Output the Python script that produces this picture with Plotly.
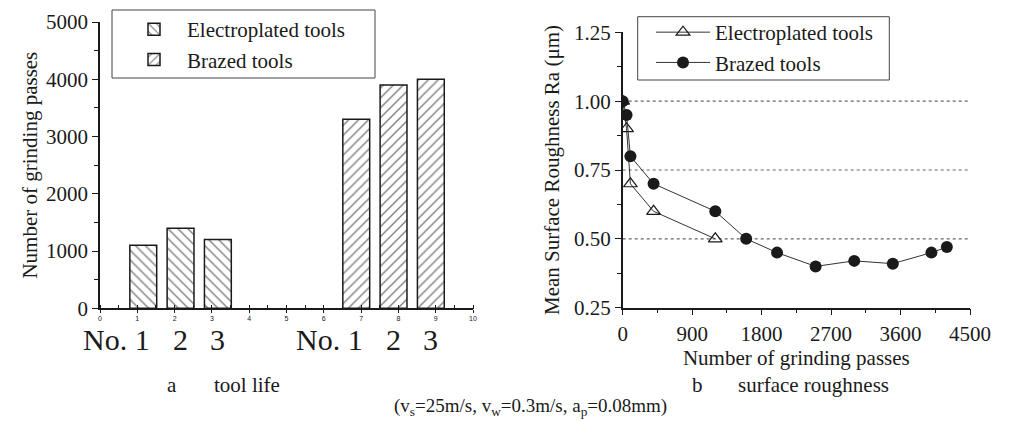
import plotly.graph_objects as go

# ---------------- data ----------------
# panel a: tool life
elec_pos = [1.16, 2.16, 3.16]
elec_life = [1100, 1400, 1200]
braz_pos = [6.87, 7.87, 8.87]
braz_life = [3300, 3900, 4000]
tool_labels = ["No. 1", "2", "3", "No. 1", "2", "3"]

# panel b: surface roughness
elec_passes = [0, 50, 100, 400, 1200]
elec_ra = [1.00, 0.90, 0.70, 0.60, 0.50]
braz_passes = [0, 50, 100, 400, 1200, 1600, 2000, 2500, 3000, 3500, 4000, 4200]
braz_ra = [1.00, 0.95, 0.80, 0.70, 0.60, 0.50, 0.45, 0.40, 0.42, 0.41, 0.45, 0.47]
ra_grid = [0.50, 0.75, 1.00]

series_names = ["Electroplated tools", "Brazed tools"]

FONT = "Liberation Serif"
INK = "#1a1a1a"
OFF = 8                      # page body margin in the browser
SW, SH = 1011, 421           # screenshot size
W, H = SW - OFF, SH - OFF    # figure size

fig = go.Figure()

# bars
fig.add_trace(go.Bar(
    x=elec_pos, y=elec_life, width=0.72, name=series_names[0],
    marker=dict(color="white", line=dict(color=INK, width=1.5),
                pattern=dict(shape="\\", fgcolor="#000", bgcolor="white", size=7, solidity=0.2)),
    xaxis="x", yaxis="y", legend="legend"))
fig.add_trace(go.Bar(
    x=braz_pos, y=braz_life, width=0.72, name=series_names[1],
    marker=dict(color="white", line=dict(color=INK, width=1.5),
                pattern=dict(shape="/", fgcolor="#000", bgcolor="white", size=7, solidity=0.2)),
    xaxis="x", yaxis="y", legend="legend"))

# lines
fig.add_trace(go.Scatter(
    x=elec_passes, y=elec_ra, mode="lines+markers", name=series_names[0],
    line=dict(color="#333", width=1),
    marker=dict(symbol="triangle-up-open", size=12, color=INK, line=dict(width=1.2)),
    xaxis="x2", yaxis="y2", legend="legend2"))
fig.add_trace(go.Scatter(
    x=braz_passes, y=braz_ra, mode="lines+markers", name=series_names[1],
    line=dict(color="#333", width=1),
    marker=dict(symbol="circle", size=12, color=INK),
    xaxis="x2", yaxis="y2", legend="legend2"))


def px_x(p):
    # screen pixel -> paper fraction
    return (p - OFF) / W


def px_y(p):
    return (SH - p) / H


axis_common = dict(showline=True, linecolor=INK, linewidth=1.5, showgrid=False,
                   zeroline=False, mirror=False, ticks="outside", tickcolor=INK,
                   tickwidth=1.2, automargin=False)

fig.update_layout(
    width=W, height=H,
    margin=dict(l=0, r=0, t=0, b=0, autoexpand=False),
    paper_bgcolor="white", plot_bgcolor="white",
    font=dict(family=FONT, size=21, color=INK),
    barmode="overlay",
    xaxis=dict(domain=[px_x(100), px_x(473)], range=[0, 10], dtick=1,
               tickfont=dict(size=7, family="Liberation Sans", color=INK), ticklen=3,
               minor=dict(dtick=0.5, ticks="inside", ticklen=4, tickcolor=INK),
               anchor="y", **axis_common),
    yaxis=dict(domain=[px_y(308.3), px_y(22)], range=[0, 5000], dtick=1000,
               ticklen=6, minor=dict(dtick=500, ticks="outside", ticklen=4, tickcolor=INK),
               title=dict(text="Number of grinding passes", standoff=3, font=dict(size=21)),
               anchor="x", **axis_common),
    xaxis2=dict(domain=[px_x(622.7), px_x(970)], range=[0, 4500], dtick=900,
                ticklen=6, minor=dict(dtick=450, ticks="outside", ticklen=4, tickcolor=INK),
                title=dict(text="Number of grinding passes", standoff=1, font=dict(size=21)),
                anchor="y2", **axis_common),
    yaxis2=dict(domain=[px_y(307.7), px_y(32.3)], range=[0.25, 1.25],
                tickvals=[0.25, 0.50, 0.75, 1.00, 1.25], tickformat=".2f",
                ticklen=6, minor=dict(dtick=0.125, ticks="outside", ticklen=4, tickcolor=INK),
                title=dict(text="Mean Surface Roughness Ra (μm)", standoff=9, font=dict(size=21)),
                anchor="x2", **axis_common),
    legend=dict(x=px_x(121), y=px_y(9), xanchor="left", yanchor="top",
                bgcolor="rgba(0,0,0,0)", borderwidth=0, font=dict(size=21),
                itemwidth=56, tracegroupgap=0),
    legend2=dict(x=px_x(651), y=px_y(12), xanchor="left", yanchor="top",
                 bgcolor="rgba(0,0,0,0)", borderwidth=0, font=dict(size=21),
                 itemwidth=54, tracegroupgap=0),
    showlegend=True,
)

shapes = []
# legend boxes
shapes.append(dict(type="rect", xref="paper", yref="paper",
                   x0=px_x(112), x1=px_x(375), y0=px_y(78), y1=px_y(10),
                   line=dict(color="#444", width=1)))
shapes.append(dict(type="rect", xref="paper", yref="paper",
                   x0=px_x(637.7), x1=px_x(889.3), y0=px_y(80), y1=px_y(16.7),
                   line=dict(color="#444", width=1)))
# dotted reference lines
for g in ra_grid:
    shapes.append(dict(type="line", xref="x2 domain", yref="y2", x0=0, x1=1, y0=g, y1=g,
                       line=dict(color="#666", width=1.2, dash="dot"), layer="below"))
fig.update_layout(shapes=shapes)

annotations = []
label_pos = elec_pos + braz_pos
for lbl, xp in zip(tool_labels, label_pos):
    if lbl.startswith("No."):
        annotations.append(dict(x=xp, xref="x", y=px_y(322), yref="paper", text=lbl,
                                showarrow=False, xanchor="right", yanchor="top",
                                xshift=8, borderpad=0, font=dict(size=30)))
    else:
        annotations.append(dict(x=xp, xref="x", y=px_y(322), yref="paper", text=lbl,
                                showarrow=False, xanchor="center", yanchor="top",
                                borderpad=0, font=dict(size=30)))

captions = [("a", 172, 385), ("tool life", 246.5, 385),
            ("b", 697, 385), ("surface roughness", 813.5, 385)]
for txt, cx, cy in captions:
    annotations.append(dict(x=px_x(cx), y=px_y(cy), xref="paper", yref="paper", text=txt,
                            showarrow=False, xanchor="center", yanchor="middle",
                            font=dict(size=21)))
annotations.append(dict(x=px_x(530), y=px_y(407), xref="paper", yref="paper",
                        text="(v<sub>s</sub>=25m/s, v<sub>w</sub>=0.3m/s, a<sub>p</sub>=0.08mm)",
                        showarrow=False, xanchor="center", yanchor="middle",
                        font=dict(size=19)))
fig.update_layout(annotations=annotations)

fig.write_html("out.html")
